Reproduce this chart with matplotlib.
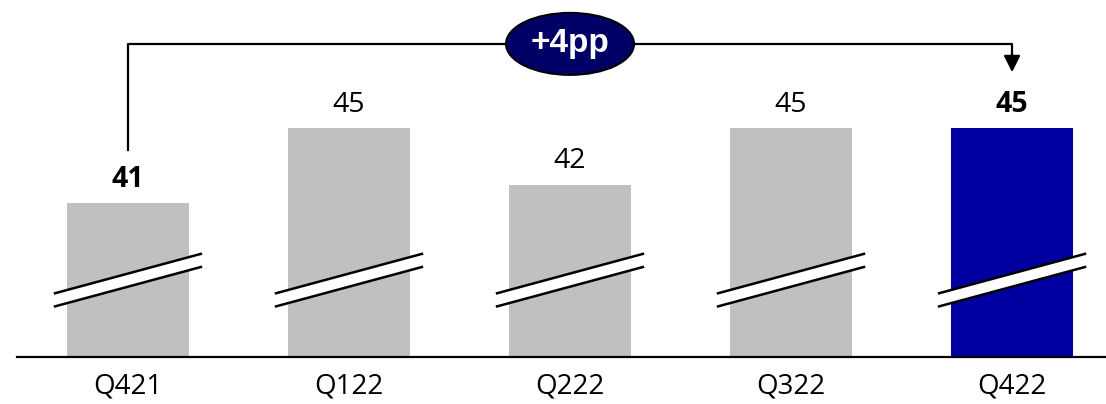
import matplotlib.pyplot as plt
from matplotlib.patches import Ellipse, Polygon

quarters = ["Q421", "Q122", "Q222", "Q322", "Q422"]
values = [41, 45, 42, 45, 45]
colors = ["#c0c0c0", "#c0c0c0", "#c0c0c0", "#c0c0c0", "#0000a0"]
bold_idx = [0, 4]
change_label = "+4pp"

plt.rcParams['font.family'] = ['Open Sans', 'DejaVu Sans']

fig = plt.figure(figsize=(11.06, 4.04), dpi=100)
ax = fig.add_axes([17 / 1106, 47 / 404, 1089 / 1106, 357 / 404])

x = list(range(len(quarters)))
ax.bar(x, values, width=0.552, color=colors, zorder=1)
ax.set_xlim(-0.502, 4.425)
ax.set_ylim(32.8, 51.84)

for s in ["top", "right", "left"]:
    ax.spines[s].set_visible(False)
ax.spines["bottom"].set_linewidth(1.6)
ax.set_yticks([])
ax.set_xticks(x)
ax.set_xticklabels(quarters, fontsize=20)
ax.tick_params(axis="x", length=0, pad=11)

# value labels
for i, v in enumerate(values):
    ax.text(i, v + 0.5, str(v), ha="center", va="bottom", fontsize=20.5,
            fontweight="bold" if i in bold_idx else "normal")

# axis break marks on each bar
for i in x:
    x0, x1 = i - 0.33, i + 0.33
    up = (36.2, 38.3)
    lo = (35.5, 37.6)
    ax.add_patch(Polygon([(x0, lo[0]), (x1, lo[1]), (x1, up[1]), (x0, up[0])],
                         closed=True, facecolor="white", edgecolor="none", zorder=2))
    ax.plot([x0, x1], [up[0], up[1]], color="black", lw=1.8, zorder=3)
    ax.plot([x0, x1], [lo[0], lo[1]], color="black", lw=1.8, zorder=3)

# change bracket
y_top = 49.5
ax.plot([0, 0, 4, 4], [43.85, y_top, y_top, 48.5], color="black", lw=1.6, zorder=3)
ax.annotate("", xy=(4, 47.84), xytext=(4, 48.9),
            arrowprops=dict(arrowstyle="-|>,head_width=0.5,head_length=1.0",
                            color="black", lw=1.6))
ell = Ellipse((2, y_top), width=128 / 221, height=62 / 18.75,
              facecolor="#000066", edgecolor="black", lw=1.5, zorder=4)
ax.add_patch(ell)
ax.text(2, y_top, change_label, ha="center", va="center", color="white",
        fontsize=24, fontweight="bold", family=["Liberation Sans", "DejaVu Sans"],
        zorder=5)

fig.savefig("out.png", dpi=100)
